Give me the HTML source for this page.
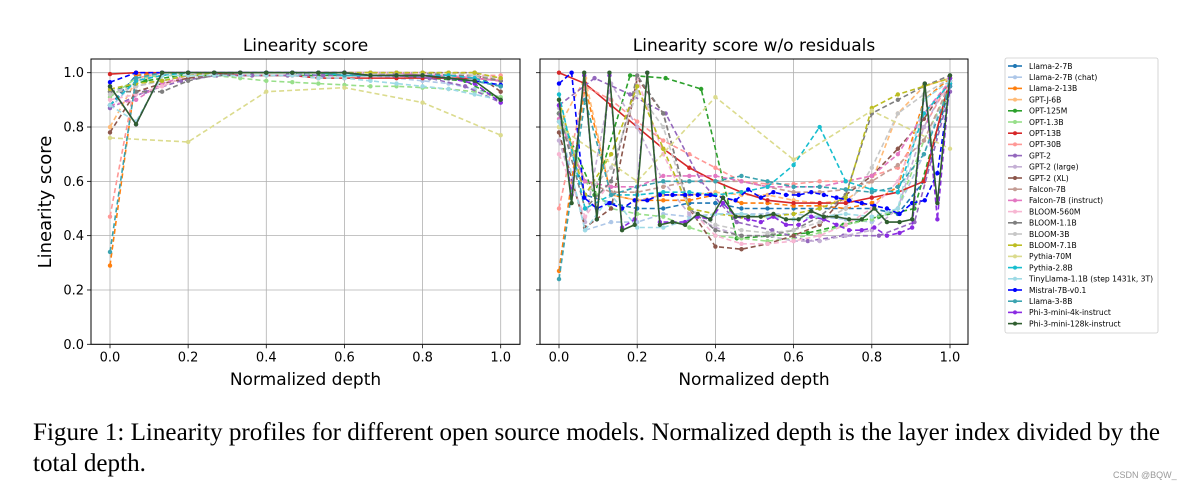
<!DOCTYPE html>
<html><head><meta charset="utf-8"><style>
body{margin:0;background:#fff;width:1190px;height:490px;overflow:hidden}
svg{display:block}
.cap{position:absolute;left:33px;font-family:"Liberation Serif",serif;font-size:25.1px;color:#000;white-space:nowrap}
</style></head><body>
<svg id="fig" width="1190" height="490"></svg>
<div class="cap" style="top:419px">Figure 1: Linearity profiles for different open source models. Normalized depth is the layer index divided by the</div>
<div class="cap" style="top:450px">total depth.</div>
<div style="position:absolute;left:1113px;top:470px;font:9px 'Liberation Sans',sans-serif;color:#999">CSDN @BQW_</div>
<script>
const names=["Llama-2-7B","Llama-2-7B (chat)","Llama-2-13B","GPT-J-6B","OPT-125M","OPT-1.3B","OPT-13B","OPT-30B","GPT-2","GPT-2 (large)","GPT-2 (XL)","Falcon-7B","Falcon-7B (instruct)","BLOOM-560M","BLOOM-1.1B","BLOOM-3B","BLOOM-7.1B","Pythia-70M","Pythia-2.8B","TinyLlama-1.1B (step 1431k, 3T)","Mistral-7B-v0.1","Llama-3-8B","Phi-3-mini-4k-instruct","Phi-3-mini-128k-instruct"];
const colors=["#1f77b4","#aec7e8","#ff7f0e","#ffbb78","#2ca02c","#98df8a","#d62728","#ff9896","#9467bd","#c5b0d5","#8c564b","#c49c94","#e377c2","#f7b6d2","#7f7f7f","#c7c7c7","#bcbd22","#dbdb8d","#17becf","#9edae5","#0000ff","#3ba3b0","#8a2be2","#2f5e2f"];
const solid=[6,23];
const leftVals=[
[0.88,0.99,1,1,1,1,1,1,0.99,0.99,0.99,0.99,0.98,0.98,0.97,0.95],
[0.87,0.97,1,1,1,1,1,1,0.99,0.99,0.99,0.98,0.97,0.96,0.94,0.91],
[0.29,0.99,1,1,1,1,1,1,1,0.99,0.99,0.99,0.99,0.98,0.98,0.97],
[0.8,0.97,0.99,1,1,1,1,1,1,1,1,0.99,0.99,0.99,0.98,0.98],
[0.93,0.97,0.99,0.99,0.99,0.99,0.99,0.99,0.99,0.98,0.97,0.9],
[0.91,0.98,0.99,0.99,0.99,0.98,0.97,0.965,0.96,0.955,0.95,0.95,0.945,0.94,0.93,0.91],
[0.995,1,1,1,1,0.99,0.99,0.99,0.98,0.98,0.98,0.98,0.98,0.98,0.98,0.97],
[0.47,0.98,1,1,1,1,1,1,1,1,0.99,0.99,0.99,0.99,0.99,0.99],
[0.87,0.93,0.97,0.99,0.99,0.99,0.99,0.99,0.99,0.98,0.95,0.89],
[0.93,0.95,0.97,0.99,1,1,1,1,1,1,1,0.99,0.99,0.99,0.98,0.97],
[0.78,0.93,0.96,0.98,0.99,1,1,1,1,1,1,1,1,1,1,0.93],
[0.88,0.97,0.99,1,1,1,1,1,1,1,1,1,0.99,0.99,0.98,0.97],
[0.88,0.9,0.96,0.99,1,1,1,1,1,1,1,1,0.99,0.99,0.98,0.97],
[0.9,0.92,0.95,0.99,1,1,1,1,1,1,1,1,1,0.99,0.99,0.98],
[0.93,0.93,0.93,0.97,0.99,1,1,1,1,1,1,1,1,0.99,0.99,0.97],
[0.92,0.95,0.97,0.99,1,1,1,1,1,1,1,1,1,1,0.99,0.98],
[0.94,0.96,0.97,0.99,1,1,1,1,1,1,1,1,1,1,1,0.98],
[0.76,0.745,0.93,0.945,0.89,0.77],
[0.88,0.97,0.99,1,1,1,1,1,1,0.99,0.99,0.99,0.99,0.99,0.98,0.95],
[0.88,0.82,0.99,0.99,0.99,0.99,0.99,0.99,0.98,0.98,0.97,0.96,0.95,0.94,0.92,0.9],
[0.965,1,1,1,1,1,1,1,1,1,0.99,0.99,0.99,0.98,0.97,0.955],
[0.34,0.98,1,1,1,1,1,1,1,0.99,0.99,0.99,0.99,0.98,0.97,0.95],
[0.95,0.81,1,1,1,1,1,1,1,1,0.99,0.99,0.99,0.98,0.96,0.89],
[0.95,0.81,1,1,1,1,1,1,1,1,0.99,0.99,0.99,0.98,0.97,0.9]];
const rightVals=[
[0.85,0.55,0.52,0.5,0.5,0.52,0.52,0.5,0.5,0.5,0.5,0.5,0.5,0.48,0.6,0.95],
[0.82,0.42,0.45,0.45,0.48,0.47,0.48,0.48,0.48,0.48,0.47,0.46,0.45,0.5,0.7,0.98],
[0.27,0.95,0.55,0.53,0.53,0.53,0.55,0.52,0.52,0.51,0.51,0.5,0.52,0.58,0.9,0.98],
[0.8,0.98,0.55,0.53,0.55,0.55,0.56,0.55,0.55,0.53,0.52,0.53,0.6,0.85,0.95,0.98],
[0.85,0.55,0.99,0.98,0.94,0.39,0.4,0.41,0.44,0.47,0.5,0.96],
[0.85,0.6,0.5,0.48,0.47,0.43,0.4,0.39,0.38,0.39,0.41,0.44,0.46,0.5,0.75,0.95],
[1.0,0.96,0.88,0.8,0.72,0.65,0.6,0.56,0.53,0.52,0.52,0.52,0.54,0.56,0.6,0.98],
[0.5,0.95,0.9,0.82,0.75,0.7,0.65,0.6,0.59,0.59,0.6,0.6,0.62,0.65,0.8,0.97],
[0.88,0.98,0.92,0.85,0.6,0.45,0.42,0.38,0.4,0.4,0.45,0.93],
[0.75,0.45,0.96,0.8,0.6,0.48,0.43,0.4,0.4,0.38,0.38,0.4,0.42,0.5,0.8,0.98],
[0.78,0.43,0.5,0.98,0.85,0.5,0.36,0.35,0.37,0.4,0.44,0.55,0.62,0.72,0.83,0.97],
[0.82,0.6,0.56,0.56,0.58,0.6,0.6,0.6,0.58,0.56,0.56,0.57,0.6,0.66,0.75,0.96],
[0.83,0.6,0.58,0.58,0.62,0.62,0.62,0.6,0.58,0.58,0.58,0.6,0.62,0.7,0.85,0.97],
[0.7,0.47,0.6,0.98,0.7,0.5,0.4,0.37,0.37,0.38,0.4,0.44,0.5,0.6,0.85,0.95],
[0.85,0.5,0.6,0.99,0.85,0.5,0.42,0.4,0.4,0.42,0.47,0.55,0.85,0.9,0.95,0.99],
[0.87,0.55,0.65,0.93,0.8,0.5,0.44,0.42,0.41,0.42,0.45,0.5,0.65,0.85,0.92,0.98],
[0.9,0.55,0.7,0.95,0.72,0.5,0.48,0.47,0.47,0.48,0.5,0.54,0.87,0.92,0.95,0.98],
[0.8,0.6,0.91,0.68,0.86,0.72],
[0.92,0.5,0.55,0.55,0.56,0.56,0.55,0.56,0.58,0.66,0.8,0.6,0.57,0.56,0.85,0.96],
[0.82,0.42,0.55,0.43,0.43,0.46,0.48,0.48,0.47,0.46,0.47,0.48,0.47,0.5,0.9,0.97],
[0.96,1.0,0.54,0.5,0.52,0.5,0.53,0.53,0.55,0.55,0.55,0.55,0.55,0.54,0.53,0.57,0.54,0.56,0.55,0.55,0.56,0.55,0.54,0.53,0.52,0.51,0.5,0.48,0.52,0.53,0.63,0.95],
[0.24,0.9,0.55,0.58,0.6,0.6,0.6,0.62,0.6,0.58,0.58,0.57,0.56,0.58,0.7,0.95],
[0.88,0.55,0.99,0.46,0.99,0.43,0.46,1.0,0.45,0.45,0.45,0.47,0.46,0.52,0.47,0.46,0.45,0.47,0.44,0.44,0.47,0.46,0.44,0.42,0.42,0.43,0.4,0.41,0.43,0.96,0.46,0.98],
[0.9,0.52,1.0,0.46,1.0,0.42,0.44,1.0,0.44,0.45,0.44,0.48,0.46,0.54,0.47,0.47,0.47,0.48,0.46,0.46,0.49,0.47,0.47,0.46,0.46,0.5,0.45,0.45,0.46,0.96,0.52,0.99]];
const xTicks=["0.0","0.2","0.4","0.6","0.8","1.0"];
const yTicks=["0.0","0.2","0.4","0.6","0.8","1.0"];
const NS="http://www.w3.org/2000/svg";
const svg=document.getElementById('fig');
function mk(tag,attrs,parent){const e=document.createElementNS(NS,tag);for(const k in attrs)e.setAttribute(k,attrs[k]);(parent||svg).appendChild(e);return e;}
function panel(box,x0,x1,title,vals,showY,key){
  const g=mk('g',{});
  
  
  const sx=v=>x0+(x1-x0)*v, sy=v=>344.3-271.6*v;
  xTicks.forEach(t=>{const X=sx(+t);
    mk('line',{x1:X,x2:X,y1:box[1],y2:box[3],stroke:'#b0b0b0','stroke-width':0.8},g);
    mk('line',{x1:X,x2:X,y1:box[3],y2:box[3]+4,stroke:'#000','stroke-width':0.8},g);
    const tx=mk('text',{x:X,y:box[3]+17,'text-anchor':'middle','font-size':13,'font-family':'DejaVu Sans,sans-serif'},g);tx.textContent=t;
    
    });
  yTicks.forEach(t=>{const Y=sy(+t);
    mk('line',{x1:box[0],x2:box[2],y1:Y,y2:Y,stroke:'#b0b0b0','stroke-width':0.8},g);
    mk('line',{x1:box[0]-4,x2:box[0],y1:Y,y2:Y,stroke:'#000','stroke-width':0.8},g);
    if(showY){const ty=mk('text',{x:box[0]-7,y:Y+4.5,'text-anchor':'end','font-size':13,'font-family':'DejaVu Sans,sans-serif'},g);ty.textContent=t;
    
    }});
  vals.forEach((arr,i)=>{const n=arr.length;
    const pts=arr.map((v,j)=>[sx(j/(n-1)),sy(v)]);
    const pl=mk('polyline',{points:pts.map(p=>p.join(',')).join(' '),fill:'none',stroke:colors[i],'stroke-width':1.6,'stroke-dasharray':solid.includes(i)?'none':'5,3'},g);
    
    
    pts.forEach(p=>{const c=mk('circle',{cx:p[0],cy:p[1],r:2.2,fill:colors[i]},g);
      
      });});
  mk('rect',{x:box[0],y:box[1],width:box[2]-box[0],height:box[3]-box[1],fill:'none',stroke:'#000','stroke-width':1},g);
  const tt=mk('text',{x:(box[0]+box[2])/2,y:51,'text-anchor':'middle','font-size':17,'font-family':'DejaVu Sans,sans-serif'},g);tt.textContent=title;
  
  
  const xl=mk('text',{x:(box[0]+box[2])/2,y:385,'text-anchor':'middle','font-size':17,'font-family':'DejaVu Sans,sans-serif'},g);xl.textContent='Normalized depth';
  
  
}
panel([91,59,520,344.3],110,500.7,'Linearity score',leftVals,true,'left');
panel([540,59,968,344.3],559,950,'Linearity score w/o residuals',rightVals,false,'right');
const yl=mk('text',{x:0,y:0,transform:'translate(51,202) rotate(-90)','text-anchor':'middle','font-size':18,'font-family':'DejaVu Sans,sans-serif'});yl.textContent='Linearity score';


const lg=mk('g',{});


mk('rect',{x:1005,y:58,width:153,height:275,fill:'#fff',stroke:'#ccc','stroke-width':0.8,rx:2},lg);
names.forEach((n,i)=>{const Y=66+i*11.2;
  const e=mk('g',{},lg);
  
  
  mk('line',{x1:1008,x2:1022,y1:Y,y2:Y,stroke:colors[i],'stroke-width':1.6},e);
  mk('circle',{cx:1015,cy:Y,r:2,fill:colors[i]},e);
  const t=mk('text',{x:1029,y:Y+2.8,'font-size':7.6,'font-family':'DejaVu Sans,sans-serif'},e);t.textContent=n;});
</script>
</body></html>
